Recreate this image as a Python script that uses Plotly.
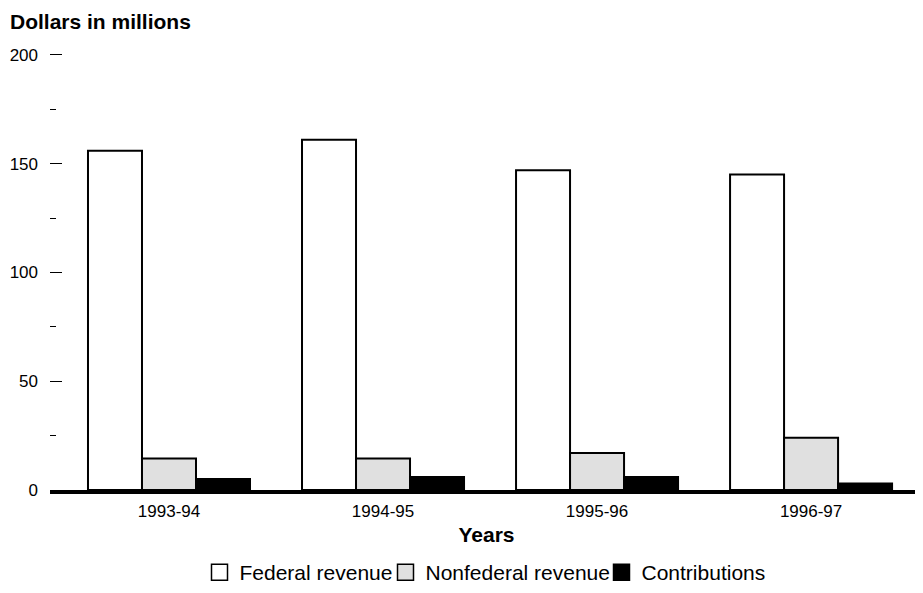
import plotly.graph_objects as go

years = ["1993-94", "1994-95", "1995-96", "1996-97"]
federal = [156, 161, 147, 145]
nonfederal = [14.5, 14.5, 17, 24]
contributions = [5, 6, 6, 3]
y_ticks = [0, 50, 100, 150, 200]

series_names = ["Federal revenue", "Nonfederal revenue", "Contributions"]
series_fill = ["white", "#e0e0e0", "black"]
series_values = [federal, nonfederal, contributions]

FONT = "Liberation Sans, Arial, sans-serif"
W, H = 915, 585
L, R, T, B = 42, 0, 45, 97
PW = W - L - R
PH = H - T - B

fig = go.Figure()
for name, fill, vals in zip(series_names, series_fill, series_values):
    fig.add_trace(go.Bar(name=name, x=years, y=vals, showlegend=False,
                         marker=dict(color=fill, line=dict(color="black", width=2))))

legend_ids = ["legend", "legend2", "legend3"]
legend_sym_px = [213.5, 399.5, 615.5]
for name, fill, lid in zip(series_names, series_fill, legend_ids):
    fig.add_trace(go.Scatter(name=name, x=[None], y=[None], mode="markers",
                             legend=lid, showlegend=True, hoverinfo="skip",
                             marker=dict(symbol="square", size=16, color=fill,
                                         line=dict(color="black", width=1.5))))

legend_common = dict(orientation="h", y=-(572 - (H - B)) / PH, yanchor="middle",
                     xanchor="left",
                     font=dict(size=21, family=FONT, color="black"),
                     bgcolor="rgba(0,0,0,0)", itemsizing="trace")

layout_legends = {}
for lid, sx in zip(legend_ids, legend_sym_px):
    layout_legends[lid] = dict(legend_common, x=(sx - 22 - L) / PW)

fig.update_layout(
    width=W, height=H,
    margin=dict(l=L, r=R, t=T, b=B),
    paper_bgcolor="white", plot_bgcolor="white",
    font=dict(family=FONT, color="black", size=17),
    barmode="group", bargap=0.243, bargroupgap=0,
    title=dict(text="<b>Dollars in millions</b>", x=2/W, xanchor="left",
               xref="container", y=1-13.3/H, yanchor="middle", yref="container",
               font=dict(size=21, family=FONT, color="black")),
    showlegend=True,
    xaxis=dict(type="category", range=[-0.556, 3.523], showline=True, linewidth=4,
               linecolor="black", ticks="", showgrid=False, zeroline=False,
               tickfont=dict(size=17), ticklabelstandoff=3,
               title=dict(text="<b>Years</b>", font=dict(size=21), standoff=8)),
    yaxis=dict(range=[0, 200.9], tickvals=y_ticks, ticks="inside", ticklen=12,
               tickwidth=1, tickcolor="black", showline=False, showgrid=False,
               zeroline=False, tickfont=dict(size=17), ticklabelstandoff=11,
               minor=dict(dtick=25, tick0=0, ticks="inside", ticklen=6,
                          tickwidth=1, tickcolor="black", showgrid=False)),
    **layout_legends,
)

fig.write_html("out.html")
